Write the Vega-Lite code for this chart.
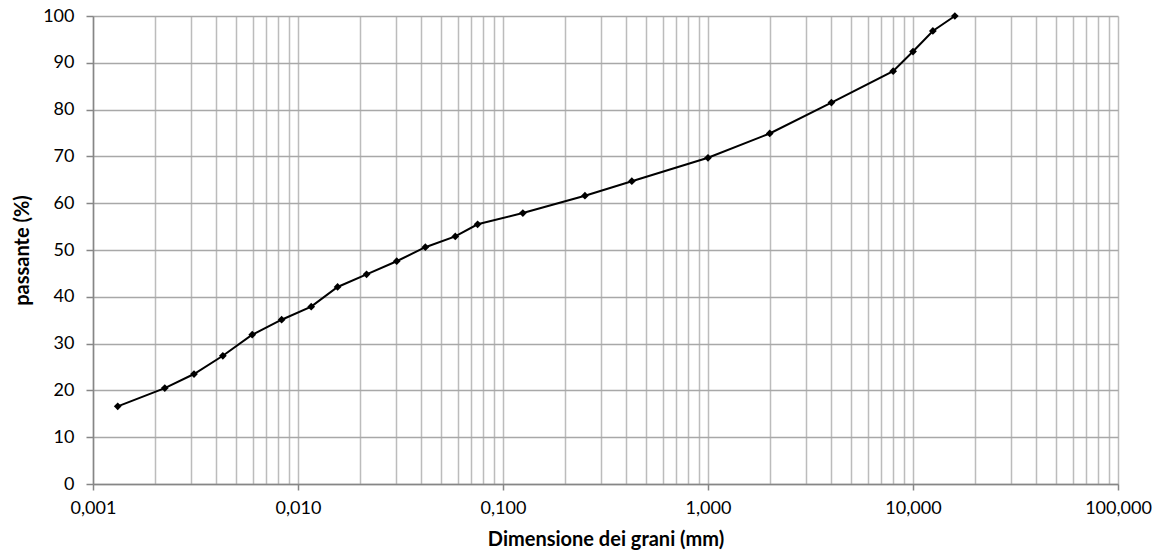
{
  "$schema": "https://vega.github.io/schema/vega-lite/v6.json",
  "width": 1025,
  "height": 468,
  "autosize": {"type": "none"},
  "padding": {"left": 93, "top": 16, "right": 45, "bottom": 71},
  "background": "white",
  "config": {
    "view": {"stroke": null},
    "font": "Lato",
    "axis": {"labelFont": "Lato", "titleFont": "Lato"}
  },
  "data": {
    "values": [
      {"d": 0.00132, "p": 16.6},
      {"d": 0.00224, "p": 20.5},
      {"d": 0.00311, "p": 23.5},
      {"d": 0.0043, "p": 27.4},
      {"d": 0.00598, "p": 31.9},
      {"d": 0.00832, "p": 35.1},
      {"d": 0.0116, "p": 37.9},
      {"d": 0.0156, "p": 42.1},
      {"d": 0.0216, "p": 44.8},
      {"d": 0.0303, "p": 47.6},
      {"d": 0.0418, "p": 50.6},
      {"d": 0.0585, "p": 52.9},
      {"d": 0.0752, "p": 55.5},
      {"d": 0.125, "p": 57.9},
      {"d": 0.251, "p": 61.6},
      {"d": 0.425, "p": 64.7},
      {"d": 1.0, "p": 69.7},
      {"d": 2.0, "p": 74.9},
      {"d": 4.0, "p": 81.5},
      {"d": 8.0, "p": 88.2},
      {"d": 10.0, "p": 92.4},
      {"d": 12.5, "p": 96.8},
      {"d": 16.0, "p": 100}
    ]
  },
  "encoding": {
    "x": {
      "field": "d",
      "type": "quantitative",
      "scale": {"type": "log", "domain": [0.001, 100], "nice": false},
      "axis": {
        "title": "Dimensione dei grani (mm)",
        "titleFontSize": 20,
        "titleFontWeight": "bold",
        "titleColor": "#000000",
        "titlePadding": 12,
        "values": [0.001,0.002,0.003,0.004,0.005,0.006,0.007,0.008,0.009,
                   0.01,0.02,0.03,0.04,0.05,0.06,0.07,0.08,0.09,
                   0.1,0.2,0.3,0.4,0.5,0.6,0.7,0.8,0.9,
                   1,2,3,4,5,6,7,8,9,
                   10,20,30,40,50,60,70,80,90,100],
        "labelExpr": "(abs(log(datum.value)/LN10 - round(log(datum.value)/LN10)) < 0.001) ? replace(format(datum.value, '.3f'), '.', ',') : ''",
        "labelFontSize": 18,
        "labelColor": "#000000",
        "labelPadding": 9,
        "labelFlush": false,
        "labelOverlap": false,
        "tickOpacity": {"condition": {"test": "abs(log(datum.value)/LN10 - round(log(datum.value)/LN10)) < 0.001", "value": 1}, "value": 0},
        "tickColor": "#868686",
        "tickSize": 6,
        "tickWidth": 1.5,
        "domainColor": "#868686",
        "domainWidth": 1.5,
        "grid": true,
        "gridColor": "#bcbcbc",
        "gridWidth": 1.5
      }
    },
    "y": {
      "field": "p",
      "type": "quantitative",
      "scale": {"domain": [0, 100], "nice": false},
      "axis": {
        "title": "passante (%)",
        "titleFontSize": 20,
        "titleFontWeight": "bold",
        "titleColor": "#000000",
        "titlePadding": 10,
        "values": [0,10,20,30,40,50,60,70,80,90,100],
        "labelFontSize": 18,
        "labelColor": "#000000",
        "labelPadding": 12,
        "labelFlush": false,
        "tickColor": "#868686",
        "tickSize": 7,
        "tickWidth": 1.5,
        "domainColor": "#868686",
        "domainWidth": 1.5,
        "grid": true,
        "gridColor": "#a8a8a8",
        "gridWidth": 1.5
      }
    }
  },
  "layer": [
    {"mark": {"type": "line", "color": "#000000", "strokeWidth": 2}},
    {"mark": {"type": "point", "shape": "diamond", "filled": true, "color": "#000000", "opacity": 1, "size": 60}}
  ]
}
